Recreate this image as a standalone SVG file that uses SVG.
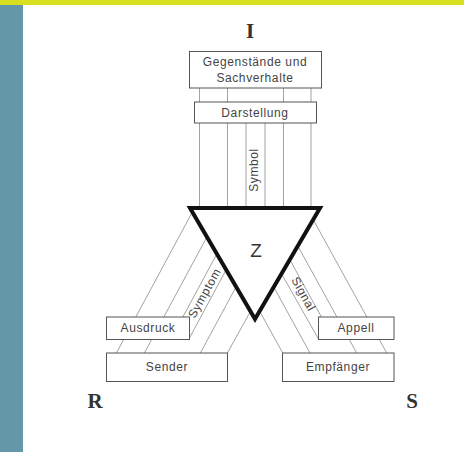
<svg xmlns="http://www.w3.org/2000/svg" width="464" height="452" viewBox="0 0 464 452">
<style>
.ln{stroke:#8a8a8a;stroke-width:0.8;fill:none}
.box{fill:#fff;stroke:#555;stroke-width:1}
.t{font-family:"Liberation Sans",Arial,sans-serif;font-size:12px;fill:#444;text-anchor:middle;letter-spacing:0.6px}
.big{font-family:"Liberation Serif","Times New Roman",serif;font-weight:bold;font-size:21px;fill:#333;text-anchor:middle}
</style>
<rect x="0" y="0" width="464" height="452" fill="#fff"/>
<rect x="0" y="0" width="464" height="5" fill="#d8e020"/>
<rect x="0" y="5" width="23" height="447" fill="#6497a8"/>
<g id="connectors">
<line class="ln" x1="199.5" y1="88" x2="199.5" y2="208"/>
<line class="ln" x1="227.5" y1="88" x2="227.5" y2="208"/>
<line class="ln" x1="246" y1="123" x2="246" y2="208"/>
<line class="ln" x1="265" y1="123" x2="265" y2="208"/>
<line class="ln" x1="283.5" y1="88" x2="283.5" y2="208"/>
<line class="ln" x1="311" y1="88" x2="311" y2="208"/>
<line class="ln" x1="192.4" y1="212" x2="116.4" y2="353"/>
<line class="ln" x1="206.9" y1="237" x2="144.4" y2="353"/>
<line class="ln" x1="216.8" y1="254" x2="182.8" y2="317"/>
<line class="ln" x1="226" y1="270" x2="189.3" y2="338.3"/>
<line class="ln" x1="236" y1="287" x2="200.4" y2="353"/>
<line class="ln" x1="250.5" y1="311.3" x2="227.4" y2="353"/>
<line class="ln" x1="313.2" y1="219.6" x2="386.7" y2="353"/>
<line class="ln" x1="297.9" y1="246.1" x2="356.7" y2="353"/>
<line class="ln" x1="289.9" y1="259.8" x2="321.4" y2="317"/>
<line class="ln" x1="281.7" y1="274" x2="318.3" y2="338.7"/>
<line class="ln" x1="274" y1="287.5" x2="310" y2="353"/>
<line class="ln" x1="259.9" y1="311.6" x2="282.7" y2="353"/>
</g>
<g id="I"><text class="big" x="250" y="38">I</text></g>
<g id="gegenstaende">
<rect class="box" x="189.5" y="51.5" width="132" height="36.5"/>
<text class="t" x="255" y="66">Gegenstände und</text>
<text class="t" x="255" y="81.5">Sachverhalte</text>
</g>
<g id="darstellung">
<rect class="box" x="194.5" y="102" width="122" height="21"/>
<text class="t" x="255" y="116.5">Darstellung</text>
</g>
<g id="symbol"><text class="t" transform="translate(257.5,170) rotate(-90)">Symbol</text></g>
<g id="Z">
<polygon points="190,208 320,208 255,319" fill="none" stroke="#111" stroke-width="4" stroke-linejoin="miter"/>
<text x="256" y="257" font-family="Liberation Sans,Arial,sans-serif" font-size="19" fill="#333" text-anchor="middle">Z</text>
</g>
<g id="symptom"><text class="t" transform="translate(208,295) rotate(-61)">Symptom</text></g>
<g id="signal"><text class="t" transform="translate(300,296) rotate(61)">Signal</text></g>
<g id="ausdruck">
<rect class="box" x="106.5" y="317" width="83" height="22.5"/>
<text class="t" x="148" y="332">Ausdruck</text>
</g>
<g id="sender">
<rect class="box" x="106.5" y="353" width="121" height="28.5"/>
<text class="t" x="167" y="371">Sender</text>
</g>
<g id="appell">
<rect class="box" x="318.5" y="317" width="75.5" height="22.5"/>
<text class="t" x="356" y="332">Appell</text>
</g>
<g id="empfaenger">
<rect class="box" x="282.5" y="353" width="111.5" height="28.5"/>
<text class="t" x="338" y="371">Empfänger</text>
</g>
<g id="R"><text class="big" x="95" y="408">R</text></g>
<g id="S"><text class="big" x="412" y="408">S</text></g>
</svg>
